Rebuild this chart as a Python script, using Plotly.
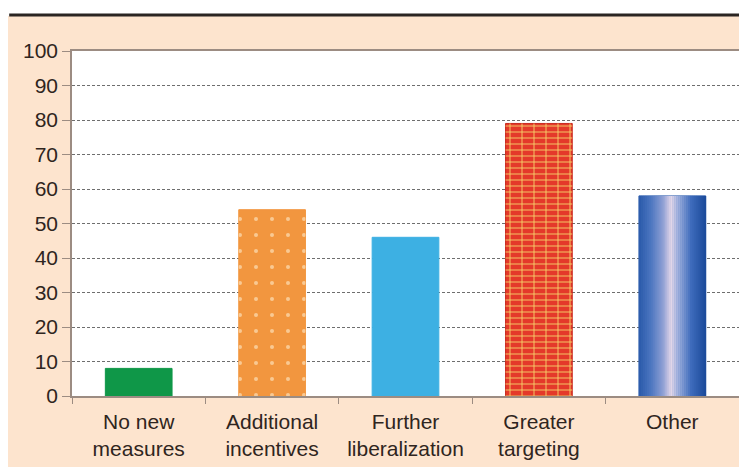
import plotly.graph_objects as go

categories = ["No new<br>measures", "Additional<br>incentives", "Further<br>liberalization",
              "Greater<br>targeting", "Other"]
values = [8, 54, 46, 79, 58]
y_ticks = list(range(0, 101, 10))

bar_colors = ["#0f9748", "#f2963f", "#3db0e3", "#e4392a", "#2d5eae"]
line_colors = ["#0f9748", "#f2963f", "#3db0e3", "#c8281c", "#2d5eae"]

BAR_W = 0.5
TEXT = "#2f2520"
FONT = "Liberation Sans, Arial, sans-serif"

# The page body has an 8px margin: figure is placed at (8, 8)
W, H = 739, 459
ML, MT, PW, PH = 64, 43, 669, 345

fig = go.Figure()

fig.add_trace(go.Bar(
    x=categories, y=values, width=BAR_W,
    marker=dict(color=bar_colors, line=dict(color=line_colors, width=1)),
    hoverinfo="skip", showlegend=False,
))

transparent = "rgba(0,0,0,0)"

# white dots on the orange bar
fig.add_trace(go.Bar(
    x=[categories[1]], y=[values[1]], width=BAR_W,
    marker=dict(color=transparent, line=dict(width=0),
                pattern=dict(shape=".", fgcolor="#fffbe8", bgcolor=transparent,
                             size=16, solidity=0.05)),
    hoverinfo="skip", showlegend=False,
))

# brick mortar on the red bar: horizontal courses and vertical joints
fig.add_trace(go.Bar(
    x=[categories[3]], y=[values[3]], width=BAR_W,
    marker=dict(color=transparent, line=dict(width=0),
                pattern=dict(shape="-", fgcolor="#f6d36a", bgcolor=transparent,
                             size=6, solidity=0.3)),
    hoverinfo="skip", showlegend=False,
))
fig.add_trace(go.Bar(
    x=[categories[3]], y=[values[3]], width=BAR_W,
    marker=dict(color=transparent, line=dict(width=0),
                pattern=dict(shape="|", fgcolor="#f6d36a", bgcolor=transparent,
                             size=12, solidity=0.15)),
    hoverinfo="skip", showlegend=False,
))

# cylinder-like gradient for "Other"
def hex2rgb(h):
    h = h.lstrip("#")
    return [int(h[i:i + 2], 16) for i in (0, 2, 4)]

stops = [(0.0, "#2a5aaa"), (0.18, "#4c76c0"), (0.36, "#8e9fd4"), (0.48, "#e4d8ea"),
         (0.58, "#a2b2de"), (0.78, "#3f6cbc"), (1.0, "#1b4a9a")]

def grad(t):
    for (t0, c0), (t1, c1) in zip(stops[:-1], stops[1:]):
        if t0 <= t <= t1:
            f = (t - t0) / (t1 - t0)
            a, b = hex2rgb(c0), hex2rgb(c1)
            return "rgb(%d,%d,%d)" % tuple(round(a[k] + (b[k] - a[k]) * f) for k in range(3))
    return stops[-1][1]

N = 34
sw = BAR_W / N
for i in range(N):
    fig.add_trace(go.Bar(
        x=[categories[4]], y=[values[4]], width=sw * 1.25,
        offset=-BAR_W / 2 + i * sw,
        marker=dict(color=grad((i + 0.5) / N), line=dict(width=0)),
        hoverinfo="skip", showlegend=False,
    ))

def py(page_y):
    return (396 - page_y) / PH

def px(page_x):
    return (page_x - 72) / PW

# white strip above the rule, black rule
fig.add_shape(type="rect", xref="paper", yref="paper", x0=-0.2, x1=1.1, y0=py(16), y1=1.3,
              fillcolor="white", line=dict(width=0), layer="above")
fig.add_shape(type="line", xref="paper", yref="paper", x0=px(9), x1=px(748),
              y0=py(15), y1=py(15),
              line=dict(color="#2b2522", width=3), layer="above")

fig.update_layout(
    width=W, height=H,
    margin=dict(l=ML, r=W - ML - PW, t=MT, b=H - MT - PH),
    paper_bgcolor="#fde4ce", plot_bgcolor="white",
    barmode="overlay", bargap=0.5,
    font=dict(family=FONT, size=21, color=TEXT),
    xaxis=dict(showline=True, linecolor="#9c8c82", linewidth=1.5, mirror=True,
               ticks="outside", tickson="boundaries", ticklen=6, tickcolor="#9c8c82",
               showgrid=False, ticklabelstandoff=6, tickfont=dict(size=21, color=TEXT)),
    yaxis=dict(range=[0, 100], tickvals=y_ticks, showline=True, linecolor="#9c8c82",
               linewidth=1.5, mirror=True, ticks="outside", ticklen=8, tickcolor="#9c8c82",
               showgrid=True, gridcolor="#6e6e6e", gridwidth=1, griddash="3px,2px",
               zeroline=False, tickfont=dict(size=21, color=TEXT)),
)

fig.write_html("out.html")
